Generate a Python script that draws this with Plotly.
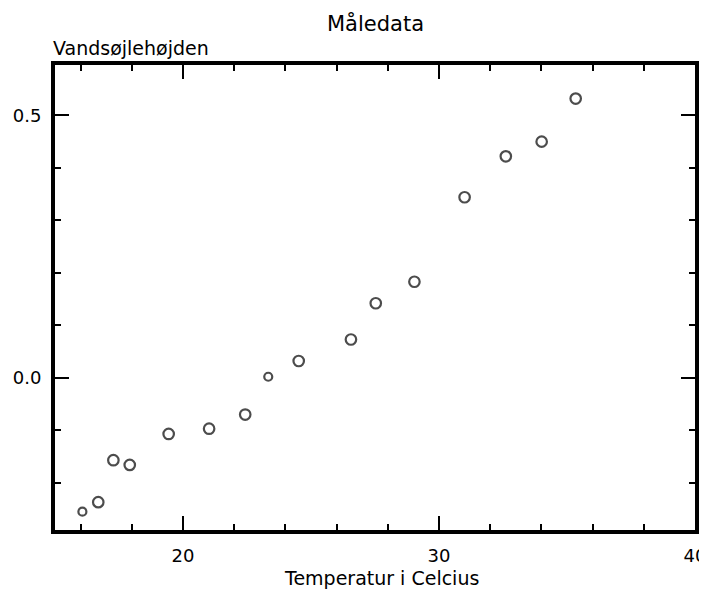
import plotly.graph_objects as go

temperature = [16.07, 16.69, 17.28, 17.92, 19.44, 21.02, 22.43, 23.33, 24.52, 26.56, 27.53, 29.04, 31.0, 32.61, 34.01, 35.34]
height = [-0.255, -0.237, -0.157, -0.166, -0.107, -0.097, -0.070, 0.002, 0.032, 0.073, 0.142, 0.183, 0.344, 0.422, 0.450, 0.532]
marker_sizes = [8, 10.5, 10.5, 10.5, 10.5, 10.5, 10.5, 8, 10.5, 10.5, 10.5, 10.5, 10.5, 10.5, 10.5, 10.5]

title_text = "Måledata"
x_title = "Temperatur i Celcius"
y_title = "Vandsøjlehøjden"

FONT = "DejaVu Sans"

fig = go.Figure()
fig.add_trace(go.Scatter(
    x=temperature, y=height, mode="markers",
    marker=dict(symbol="circle-open", size=marker_sizes, color="black",
                line=dict(width=2.2, color="black")),
    showlegend=False, cliponaxis=False,
))

axis_common = dict(
    showgrid=False, zeroline=False, showline=True, linecolor="black", linewidth=4,
    mirror="allticks", ticks="inside", ticklen=14, tickwidth=2, tickcolor="black",
    tickfont=dict(family=FONT, size=18, color="black"), automargin=False,
)

fig.update_xaxes(range=[15, 40], tick0=0, dtick=10, ticklabelstandoff=6,
                 minor=dict(dtick=2, ticks="inside", ticklen=6, tickwidth=2, tickcolor="black"),
                 **axis_common)
fig.update_yaxes(range=[-0.29, 0.596], tick0=0, dtick=0.5, tickformat=".1f", ticklabelstandoff=6,
                 minor=dict(dtick=0.1, ticks="inside", ticklen=6, tickwidth=2, tickcolor="black"),
                 **axis_common)

fig.update_layout(
    width=699, height=582,
    margin=dict(l=47, r=12, t=57, b=59.5),
    plot_bgcolor="white", paper_bgcolor="white",
    font=dict(family=FONT, size=18, color="black"),
    annotations=[
        dict(text=title_text, xref="paper", yref="paper", x=0.5, y=1, yshift=42,
             xanchor="center", yanchor="middle", showarrow=False,
             font=dict(family=FONT, size=21)),
        dict(text=y_title, xref="paper", yref="paper", x=0, xshift=-4, y=1, yshift=17,
             xanchor="left", yanchor="middle", showarrow=False,
             font=dict(family=FONT, size=19)),
        dict(text=x_title, xref="paper", yref="paper", x=0.5, xshift=6, y=0, yshift=-48,
             xanchor="center", yanchor="middle", showarrow=False,
             font=dict(family=FONT, size=19)),
    ],
)

fig.write_html("out.html")
